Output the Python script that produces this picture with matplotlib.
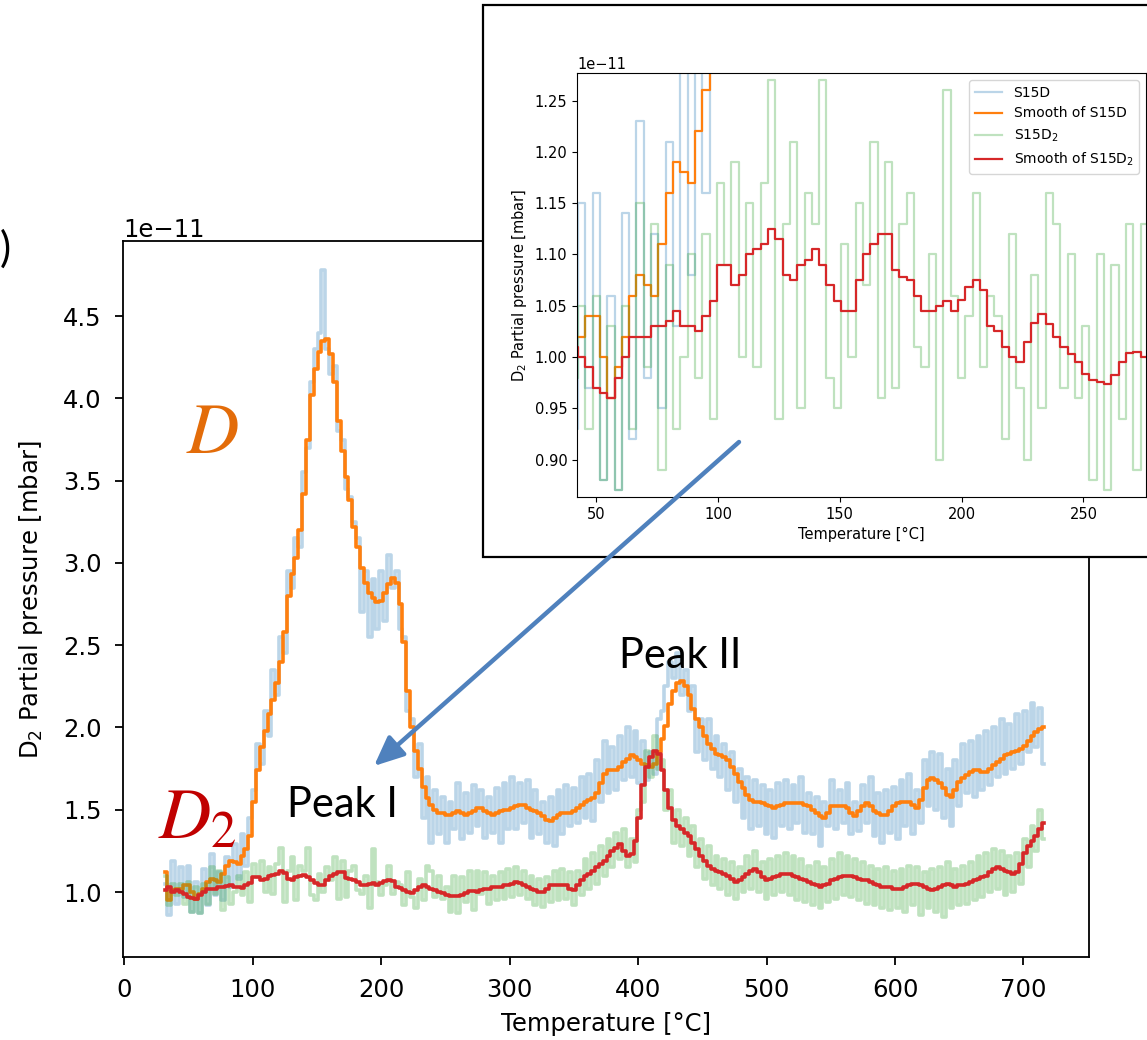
import numpy as np
import matplotlib
matplotlib.use('Agg')
import matplotlib.pyplot as plt
from matplotlib.patches import Rectangle, FancyArrowPatch

# temperature ramp of the measurement [°C]
T_START, T_STOP, T_STEP = 32, 717, 3

# partial pressures in units of 1e-11 mbar
s15d_raw = [
    1.05, 0.86, 1.19, 0.93, 1.15, 0.97, 1.16, 0.88, 1.06, 0.87,
    1.14, 0.92, 1.23, 0.98, 1.12, 0.95, 1.21, 1.03, 1.29, 1.08,
    1.35, 1.16, 1.45, 1.62, 1.90, 1.78, 2.10, 1.95, 2.35, 2.20,
    2.55, 2.45, 2.95, 2.85, 3.15, 3.10, 3.55, 3.70, 4.10, 4.30,
    4.40, 4.78, 4.30, 4.15, 4.20, 3.80, 3.75, 3.45, 3.40, 3.25,
    3.15, 2.70, 2.95, 2.55, 2.90, 2.60, 2.95, 2.65, 3.05, 2.85,
    2.95, 2.60, 2.55, 2.10, 2.05, 1.70, 1.90, 1.45, 1.70, 1.30,
    1.62, 1.35, 1.58, 1.30, 1.55, 1.38, 1.66, 1.32, 1.60, 1.36,
    1.65, 1.40, 1.62, 1.33, 1.58, 1.36, 1.63, 1.30, 1.66, 1.38,
    1.70, 1.38, 1.66, 1.42, 1.68, 1.33, 1.62, 1.35, 1.55, 1.30,
    1.58, 1.28, 1.62, 1.35, 1.65, 1.40, 1.63, 1.42, 1.70, 1.45,
    1.72, 1.43, 1.80, 1.55, 1.92, 1.60, 1.88, 1.62, 1.95, 1.68,
    2.00, 1.70, 1.98, 1.66, 1.92, 1.68, 1.85, 1.72, 2.05, 2.10,
    2.25, 2.40, 2.30, 2.45, 2.20, 2.35, 2.10, 2.25, 1.85, 2.05,
    1.80, 2.05, 1.75, 1.95, 1.70, 1.90, 1.62, 1.85, 1.55, 1.75,
    1.45, 1.70, 1.38, 1.68, 1.40, 1.65, 1.35, 1.62, 1.33, 1.66,
    1.40, 1.68, 1.38, 1.65, 1.42, 1.70, 1.36, 1.60, 1.35, 1.58,
    1.28, 1.55, 1.40, 1.68, 1.38, 1.62, 1.42, 1.66, 1.35, 1.55,
    1.37, 1.65, 1.42, 1.70, 1.34, 1.60, 1.30, 1.62, 1.36, 1.64,
    1.32, 1.68, 1.40, 1.72, 1.35, 1.62, 1.42, 1.80, 1.52, 1.85,
    1.50, 1.84, 1.45, 1.75, 1.40, 1.80, 1.52, 1.90, 1.60, 1.92,
    1.58, 1.95, 1.62, 1.98, 1.65, 2.00, 1.70, 2.05, 1.72, 2.02,
    1.75, 2.08, 1.78, 2.10, 1.85, 2.15, 1.88, 2.12, 1.78,
]
s15d_smooth = [
    1.12, 0.95, 1.01, 1.02, 1.02, 1.04, 1.04, 1.00, 0.96, 0.99,
    1.02, 1.06, 1.08, 1.07, 1.06, 1.11, 1.16, 1.19, 1.18, 1.17,
    1.22, 1.26, 1.34, 1.55, 1.74, 1.88, 1.98, 2.08, 2.17, 2.27,
    2.40, 2.58, 2.80, 2.93, 3.03, 3.20, 3.42, 3.75, 4.02, 4.18,
    4.28, 4.35, 4.36, 4.27, 4.10, 3.86, 3.68, 3.52, 3.38, 3.22,
    3.10, 2.97, 2.88, 2.82, 2.79, 2.76, 2.77, 2.82, 2.87, 2.91,
    2.88, 2.75, 2.52, 2.22, 2.00, 1.86, 1.75, 1.64, 1.57, 1.53,
    1.50, 1.48, 1.48, 1.47, 1.47, 1.48, 1.49, 1.48, 1.47, 1.48,
    1.49, 1.51, 1.51, 1.49, 1.48, 1.47, 1.48, 1.49, 1.50, 1.50,
    1.51, 1.52, 1.53, 1.53, 1.51, 1.50, 1.49, 1.48, 1.46, 1.44,
    1.43, 1.45, 1.47, 1.48, 1.48, 1.48, 1.49, 1.51, 1.53, 1.55,
    1.56, 1.57, 1.60, 1.66, 1.72, 1.74, 1.74, 1.74, 1.76, 1.79,
    1.81, 1.83, 1.82, 1.80, 1.78, 1.77, 1.76, 1.78, 1.85, 1.93,
    2.01, 2.14, 2.22, 2.27, 2.28, 2.25, 2.20, 2.11, 2.05, 2.00,
    1.95, 1.90, 1.87, 1.84, 1.83, 1.82, 1.80, 1.76, 1.72, 1.67,
    1.63, 1.59, 1.56, 1.55, 1.55, 1.54, 1.53, 1.52, 1.51, 1.52,
    1.53, 1.54, 1.54, 1.54, 1.54, 1.54, 1.53, 1.52, 1.50, 1.48,
    1.46, 1.45, 1.48, 1.52, 1.52, 1.52, 1.52, 1.51, 1.48, 1.46,
    1.49, 1.52, 1.54, 1.52, 1.49, 1.48, 1.47, 1.47, 1.49, 1.52,
    1.54, 1.55, 1.55, 1.55, 1.53, 1.51, 1.56, 1.63, 1.68, 1.69,
    1.68, 1.66, 1.63, 1.59, 1.58, 1.62, 1.67, 1.69, 1.71, 1.73,
    1.74, 1.74, 1.73, 1.73, 1.75, 1.77, 1.79, 1.81, 1.83, 1.84,
    1.85, 1.86, 1.87, 1.89, 1.92, 1.95, 1.97, 1.99, 2.00,
]
s15d2_raw = [
    1.10, 0.92, 1.05, 0.98, 1.05, 0.93, 1.06, 0.88, 1.03, 0.87,
    1.05, 0.93, 1.15, 0.99, 1.13, 0.89, 1.09, 0.93, 1.00, 1.10,
    0.98, 1.12, 0.94, 1.17, 1.09, 1.19, 1.00, 1.15, 0.99, 1.17,
    1.27, 0.94, 1.13, 1.21, 0.95, 1.16, 1.13, 1.27, 0.98, 0.95,
    1.11, 1.00, 1.15, 1.07, 1.21, 0.96, 1.19, 0.97, 1.13, 1.16,
    1.01, 0.99, 1.10, 0.90, 1.26, 1.06, 0.98, 1.04, 1.16, 0.99,
    1.06, 1.04, 0.92, 1.12, 0.97, 0.90, 1.08, 0.95, 1.16, 1.13,
    0.97, 1.10, 0.96, 1.03, 0.88, 1.10, 0.87, 1.09, 0.94, 1.13,
    0.89, 1.13, 0.99, 1.12, 0.93, 1.10, 0.95, 1.12, 0.96, 1.14,
    0.97, 1.15, 0.98, 1.13, 0.96, 1.10, 0.92, 1.08, 0.91, 1.09,
    0.94, 1.13, 0.95, 1.14, 0.96, 1.12, 0.92, 1.13, 0.98, 1.20,
    1.02, 1.24, 1.05, 1.28, 1.10, 1.32, 1.15, 1.36, 1.20, 1.38,
    1.15, 1.32, 1.18, 1.50, 1.55, 1.86, 1.70, 1.95, 1.75, 1.80,
    1.50, 1.62, 1.30, 1.50, 1.28, 1.45, 1.22, 1.40, 1.15, 1.32,
    1.08, 1.28, 1.04, 1.22, 1.02, 1.20, 0.98, 1.18, 0.96, 1.15,
    1.00, 1.22, 1.02, 1.25, 1.00, 1.18, 0.96, 1.20, 0.98, 1.22,
    1.00, 1.24, 0.98, 1.22, 0.95, 1.20, 0.94, 1.16, 0.92, 1.18,
    0.90, 1.15, 0.94, 1.20, 0.96, 1.24, 0.98, 1.22, 0.97, 1.20,
    0.95, 1.18, 0.93, 1.16, 0.92, 1.14, 0.90, 1.15, 0.89, 1.13,
    0.90, 1.14, 0.88, 1.16, 0.92, 1.15, 0.86, 1.12, 0.90, 1.14,
    0.88, 1.15, 0.85, 1.18, 0.90, 1.14, 0.92, 1.16, 0.93, 1.18,
    0.95, 1.22, 0.97, 1.24, 1.00, 1.26, 1.02, 1.25, 0.98, 1.22,
    1.00, 1.24, 1.05, 1.32, 1.15, 1.40, 1.25, 1.50, 1.32,
]
s15d2_smooth = [
    1.01, 1.03, 1.00, 1.01, 1.00, 0.99, 0.97, 0.965, 0.96, 0.98,
    1.00, 1.02, 1.02, 1.02, 1.03, 1.03, 1.035, 1.045, 1.03, 1.03,
    1.025, 1.04, 1.055, 1.09, 1.09, 1.07, 1.08, 1.10, 1.105, 1.11,
    1.125, 1.115, 1.08, 1.075, 1.09, 1.095, 1.105, 1.09, 1.07, 1.055,
    1.045, 1.045, 1.075, 1.10, 1.11, 1.12, 1.12, 1.085, 1.078, 1.075,
    1.06, 1.045, 1.045, 1.05, 1.055, 1.045, 1.056, 1.068, 1.075, 1.065,
    1.03, 1.025, 1.01, 1.00, 0.995, 1.015, 1.033, 1.042, 1.032, 1.02,
    1.01, 1.003, 0.995, 0.983, 0.978, 0.976, 0.974, 0.982, 0.995, 1.004,
    1.005, 1.00, 1.01, 1.02, 1.02, 1.03, 1.03, 1.03, 1.04, 1.04,
    1.05, 1.06, 1.055, 1.045, 1.03, 1.02, 1.01, 1.00, 1.00, 1.02,
    1.04, 1.045, 1.045, 1.045, 1.04, 1.02, 1.01, 1.04, 1.07, 1.10,
    1.11, 1.13, 1.15, 1.17, 1.19, 1.22, 1.25, 1.27, 1.29, 1.25,
    1.22, 1.23, 1.31, 1.45, 1.65, 1.76, 1.82, 1.86, 1.84, 1.74,
    1.62, 1.51, 1.44, 1.40, 1.38, 1.36, 1.34, 1.30, 1.26, 1.22,
    1.19, 1.16, 1.14, 1.13, 1.12, 1.11, 1.10, 1.08, 1.06, 1.07,
    1.09, 1.11, 1.13, 1.14, 1.12, 1.09, 1.07, 1.08, 1.09, 1.10,
    1.11, 1.11, 1.11, 1.10, 1.09, 1.08, 1.07, 1.06, 1.05, 1.04,
    1.03, 1.04, 1.05, 1.07, 1.08, 1.09, 1.10, 1.10, 1.10, 1.09,
    1.08, 1.07, 1.07, 1.06, 1.05, 1.04, 1.03, 1.03, 1.03, 1.02,
    1.02, 1.02, 1.03, 1.04, 1.05, 1.05, 1.04, 1.03, 1.02, 1.01,
    1.02, 1.03, 1.04, 1.05, 1.04, 1.03, 1.04, 1.04, 1.05, 1.06,
    1.07, 1.08, 1.09, 1.10, 1.12, 1.14, 1.15, 1.14, 1.13, 1.12,
    1.11, 1.12, 1.17, 1.24, 1.28, 1.31, 1.34, 1.38, 1.42,
]

UNIT = 1e-11
temperature = np.arange(T_START, T_STOP, T_STEP)
series = [
    (np.array(s15d_raw) * UNIT, 'S15D', 'tab:blue', 0.3),
    (np.array(s15d_smooth) * UNIT, 'Smooth of S15D', 'tab:orange', 1.0),
    (np.array(s15d2_raw) * UNIT, r'S15D$\mathregular{_2}$', 'tab:green', 0.3),
    (np.array(s15d2_smooth) * UNIT, r'Smooth of S15D$\mathregular{_2}$',
     'tab:red', 1.0),
]
ylabel = r'D$\mathregular{_2}$ Partial pressure [mbar]'

plt.rcParams['mathtext.fontset'] = 'stix'

W, H = 1147, 1040
fig = plt.figure(figsize=(W / 100, H / 100), dpi=100)


def px(x0, y0, x1, y1):
    # pixel box (top-left origin) -> figure fraction rect
    return [x0 / W, 1 - y1 / H, (x1 - x0) / W, (y1 - y0) / H]


# main axes
ax = fig.add_axes(px(123, 241, 1089, 957), zorder=0)
for y, lab, col, a in series:
    lw = 2.6 if a < 1 else 2.6
    ax.plot(temperature, y, color=col, alpha=a, lw=lw, drawstyle='steps-mid')
ax.set_xlim(-1, 751)
ax.set_ylim(0.605 * UNIT, 4.957 * UNIT)
ax.set_xticks(range(0, 701, 100))
ax.set_yticks(np.arange(1.0, 4.51, 0.5) * UNIT)
ax.tick_params(labelsize=17.5, length=5.8, width=1.3, pad=9.5)
ax.yaxis.get_offset_text().set_fontsize(17.5)
for sp in ax.spines.values():
    sp.set_linewidth(1.3)
ax.set_xlabel('Temperature [°C]', fontsize=17.5, labelpad=7)
ax.set_ylabel(ylabel, fontsize=17.5, labelpad=13)

# white screenshot box behind the inset
frame = Rectangle((483 / W, 1 - 557 / H), 1.0, (557 - 5) / H,
                  transform=fig.transFigure, facecolor='white',
                  edgecolor='black', lw=1.6, zorder=2)
fig.add_artist(frame)

# inset zoom
ins = fig.add_axes(px(577, 73, 1146, 497), zorder=3)
for y, lab, col, a in series:
    ins.plot(temperature, y, color=col, alpha=a, lw=1.6,
             drawstyle='steps-mid', label=lab)
ins.set_xlim(42.1, 275.7)
ins.set_ylim(0.8635 * UNIT, 1.277 * UNIT)
ins.set_xticks([50, 100, 150, 200, 250])
ins.set_yticks(np.arange(0.90, 1.251, 0.05) * UNIT)
ins.tick_params(labelsize=10.5)
ins.yaxis.get_offset_text().set_fontsize(10.5)
ins.set_xlabel('Temperature [°C]', fontsize=10.5)
ins.set_ylabel(ylabel, fontsize=10.5)
ins.legend(loc='upper right', fontsize=10)

# arrow from inset to peak I
arrow = FancyArrowPatch((739 / W, 1 - 442 / H), (374 / W, 1 - 766 / H),
                        transform=fig.transFigure,
                        arrowstyle='-|>,head_length=0.9,head_width=0.4',
                        mutation_scale=20, color='#4f81bd', lw=3.2,
                        shrinkA=0, shrinkB=0, zorder=4)
fig.add_artist(arrow)

# annotations
fig.text(213 / W, 1 - 453 / H, r'$D$', color='#e36c09', fontsize=52,
         ha='center', va='baseline', zorder=5)
fig.text(158 / W, 1 - 838 / H, r'$D_2$', color='#c00000', fontsize=52,
         ha='left', va='baseline', zorder=5)
fig.text(287 / W, 1 - 817 / H, 'Peak I', family='Lato', fontsize=30,
         ha='left', va='baseline', zorder=5)
fig.text(619 / W, 1 - 668 / H, 'Peak II', family='Lato', fontsize=30,
         ha='left', va='baseline', zorder=5)
fig.text(0, 1 - 262 / H, ')', family='Lato', fontsize=30,
         ha='left', va='baseline', zorder=5)

fig.savefig('out.png', dpi=100)
